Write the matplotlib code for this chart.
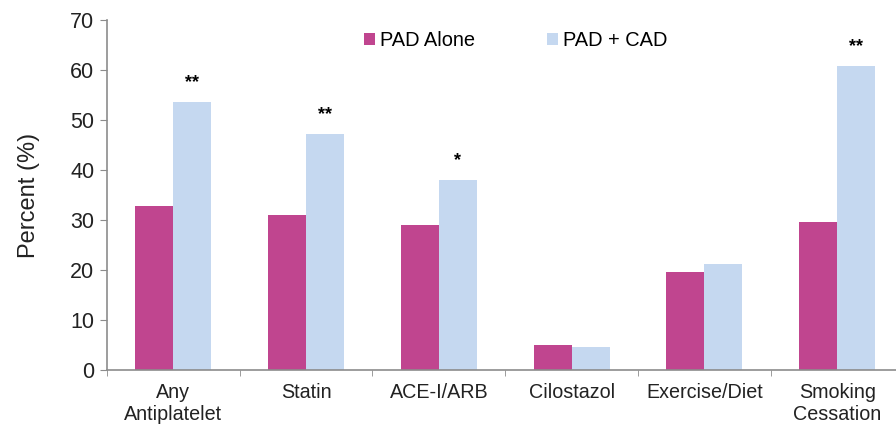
import numpy as np
import matplotlib
matplotlib.use("Agg")
import matplotlib.pyplot as plt

categories = ["Any\nAntiplatelet", "Statin", "ACE-I/ARB", "Cilostazol", "Exercise/Diet", "Smoking\nCessation"]
pad_alone = [32.8, 31.0, 29.0, 5.0, 19.7, 29.7]
pad_cad = [53.7, 47.3, 38.1, 4.7, 21.3, 60.9]
signif = ["**", "**", "*", "", "", "**"]

plt.rcParams['font.family'] = ['Liberation Sans', 'DejaVu Sans']
axis_grey = "#8c8c8c"
text_col = "#222222"

fig = plt.figure(figsize=(8.96, 4.29), dpi=100)
ax = fig.add_axes([0.1194, 0.1375, 0.889, 0.8155])

x = np.arange(len(categories))
w = 0.286
ax.bar(x - w / 2, pad_alone, w, color="#c0458f", label="PAD Alone")
ax.bar(x + w / 2, pad_cad, w, color="#c5d8f0", label="PAD + CAD")

# significance markers over the PAD + CAD bars
for xi, v, s in zip(x, pad_cad, signif):
    if s:
        ax.text(xi + w / 2, v + 3.8, s, ha="center", va="center", fontsize=13, fontweight="bold")

ax.set_xlim(-0.5, len(categories) - 0.5)
ax.set_ylim(0, 70)
ax.set_yticks(range(0, 71, 10))
ax.set_xticks(x)
ax.set_xticklabels(categories, fontsize=14.2, color=text_col, linespacing=1.2)
ax.set_xticks(np.arange(-0.5, len(categories), 1), minor=True)
ax.tick_params(axis="x", which="major", length=0, pad=9)
ax.tick_params(axis="x", which="minor", length=4, color=axis_grey, direction="out")
ax.tick_params(axis="y", length=5, color=axis_grey, labelsize=15.5, labelcolor=text_col, pad=4)
ax.set_ylabel("Percent (%)", fontsize=17, color=text_col, labelpad=22)

for side in ["top", "right"]:
    ax.spines[side].set_visible(False)
for side in ["left", "bottom"]:
    ax.spines[side].set_color(axis_grey)
    ax.spines[side].set_linewidth(1.2)

ax.legend(loc="upper left", bbox_to_anchor=(0.3, 1.02), ncol=2, frameon=False,
          fontsize=14.4, handlelength=0.55, handleheight=0.55, handletextpad=0.25,
          columnspacing=3.6)

fig.savefig("out.png", dpi=100)
